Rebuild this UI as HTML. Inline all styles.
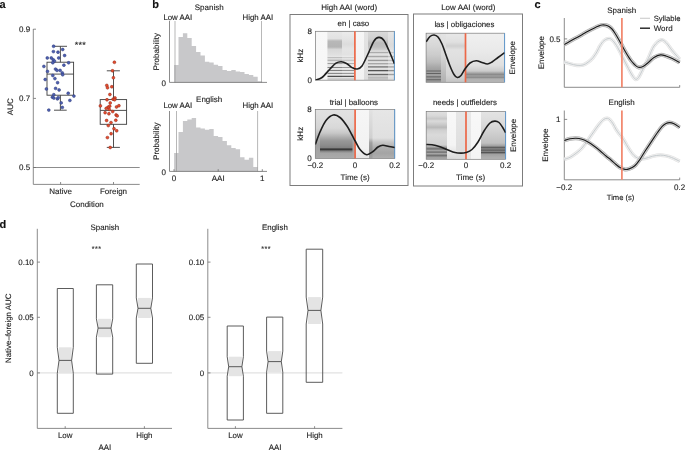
<!DOCTYPE html>
<html><head><meta charset="utf-8"><style>
html,body{margin:0;padding:0;background:#fff;}
body{width:685px;height:450px;overflow:hidden;}
svg{display:block;font-family:"Liberation Sans",sans-serif;will-change:transform;text-rendering:geometricPrecision;}
text{stroke:#222;stroke-width:0.12px;}
</style></head><body>
<svg width="685" height="450" viewBox="0 0 685 450">
<defs><filter id="blur" x="-5%" y="-5%" width="110%" height="110%"><feGaussianBlur stdDeviation="0.65"/></filter><linearGradient id="g0" x1="0" y1="0" x2="0" y2="1"><stop offset="0" stop-color="#f8f8f8"/><stop offset="1" stop-color="#f6f6f6"/></linearGradient><linearGradient id="g1" x1="0" y1="0" x2="0" y2="1"><stop offset="0" stop-color="#e8e8e8"/><stop offset="0.15" stop-color="#e2e2e2"/><stop offset="0.2" stop-color="#b8b8b8"/><stop offset="0.32" stop-color="#b4b4b4"/><stop offset="0.37" stop-color="#d8d8d8"/><stop offset="0.48" stop-color="#e0e0e0"/><stop offset="0.52" stop-color="#e6e6e6"/><stop offset="0.54" stop-color="#b4b4b4"/><stop offset="0.56" stop-color="#e6e6e6"/><stop offset="0.57" stop-color="#e6e6e6"/><stop offset="0.59" stop-color="#a8a8a8"/><stop offset="0.62" stop-color="#e6e6e6"/><stop offset="0.64" stop-color="#e6e6e6"/><stop offset="0.66" stop-color="#989898"/><stop offset="0.68" stop-color="#e6e6e6"/><stop offset="0.72" stop-color="#e6e6e6"/><stop offset="0.74" stop-color="#828282"/><stop offset="0.76" stop-color="#e6e6e6"/><stop offset="0.78" stop-color="#e6e6e6"/><stop offset="0.8" stop-color="#747474"/><stop offset="0.82" stop-color="#e6e6e6"/><stop offset="0.84" stop-color="#e6e6e6"/><stop offset="0.86" stop-color="#7a7a7a"/><stop offset="0.88" stop-color="#e6e6e6"/><stop offset="0.9" stop-color="#e6e6e6"/><stop offset="0.92" stop-color="#242424"/><stop offset="0.94" stop-color="#e6e6e6"/><stop offset="0.97" stop-color="#cccccc"/><stop offset="1" stop-color="#d4d4d4"/></linearGradient><linearGradient id="g2" x1="0" y1="0" x2="0" y2="1"><stop offset="0" stop-color="#ececec"/><stop offset="0.16" stop-color="#e4e4e4"/><stop offset="0.26" stop-color="#dcdcdc"/><stop offset="0.36" stop-color="#e4e4e4"/><stop offset="0.48" stop-color="#e2e2e2"/><stop offset="0.52" stop-color="#eaeaea"/><stop offset="0.54" stop-color="#c8c8c8"/><stop offset="0.56" stop-color="#eaeaea"/><stop offset="0.57" stop-color="#eaeaea"/><stop offset="0.59" stop-color="#bcbcbc"/><stop offset="0.62" stop-color="#eaeaea"/><stop offset="0.64" stop-color="#eaeaea"/><stop offset="0.66" stop-color="#acacac"/><stop offset="0.68" stop-color="#eaeaea"/><stop offset="0.72" stop-color="#eaeaea"/><stop offset="0.74" stop-color="#959595"/><stop offset="0.76" stop-color="#eaeaea"/><stop offset="0.78" stop-color="#eaeaea"/><stop offset="0.8" stop-color="#888888"/><stop offset="0.82" stop-color="#eaeaea"/><stop offset="0.84" stop-color="#eaeaea"/><stop offset="0.86" stop-color="#8c8c8c"/><stop offset="0.88" stop-color="#eaeaea"/><stop offset="0.9" stop-color="#eaeaea"/><stop offset="0.92" stop-color="#282828"/><stop offset="0.94" stop-color="#eaeaea"/><stop offset="0.97" stop-color="#cccccc"/><stop offset="1" stop-color="#d4d4d4"/></linearGradient><linearGradient id="g3" x1="0" y1="0" x2="0" y2="1"><stop offset="0" stop-color="#f6f6f6"/><stop offset="1" stop-color="#f2f2f2"/></linearGradient><linearGradient id="g4" x1="0" y1="0" x2="0" y2="1"><stop offset="0" stop-color="#e4e4e4"/><stop offset="1" stop-color="#dcdcdc"/></linearGradient><linearGradient id="g5" x1="0" y1="0" x2="0" y2="1"><stop offset="0" stop-color="#dadada"/><stop offset="0.16" stop-color="#d0d0d0"/><stop offset="0.24" stop-color="#bcbcbc"/><stop offset="0.32" stop-color="#c0c0c0"/><stop offset="0.38" stop-color="#d0d0d0"/><stop offset="0.41" stop-color="#e2e2e2"/><stop offset="0.43" stop-color="#a4a4a4"/><stop offset="0.46" stop-color="#e2e2e2"/><stop offset="0.49" stop-color="#e2e2e2"/><stop offset="0.52" stop-color="#9a9a9a"/><stop offset="0.54" stop-color="#e2e2e2"/><stop offset="0.57" stop-color="#e2e2e2"/><stop offset="0.6" stop-color="#929292"/><stop offset="0.62" stop-color="#e2e2e2"/><stop offset="0.64" stop-color="#e2e2e2"/><stop offset="0.66" stop-color="#a2a2a2"/><stop offset="0.69" stop-color="#e2e2e2"/><stop offset="0.7" stop-color="#e2e2e2"/><stop offset="0.73" stop-color="#626262"/><stop offset="0.75" stop-color="#e2e2e2"/><stop offset="0.78" stop-color="#e2e2e2"/><stop offset="0.8" stop-color="#4a4a4a"/><stop offset="0.83" stop-color="#e2e2e2"/><stop offset="0.86" stop-color="#e2e2e2"/><stop offset="0.88" stop-color="#585858"/><stop offset="0.91" stop-color="#e2e2e2"/><stop offset="0.94" stop-color="#b8b8b8"/><stop offset="1" stop-color="#d0d0d0"/></linearGradient><linearGradient id="g6" x1="0" y1="0" x2="0" y2="1"><stop offset="0" stop-color="#e6e6e6"/><stop offset="0.28" stop-color="#dadada"/><stop offset="0.38" stop-color="#e0e0e0"/><stop offset="0.41" stop-color="#e8e8e8"/><stop offset="0.43" stop-color="#c4c4c4"/><stop offset="0.46" stop-color="#e8e8e8"/><stop offset="0.49" stop-color="#e8e8e8"/><stop offset="0.52" stop-color="#bcbcbc"/><stop offset="0.54" stop-color="#e8e8e8"/><stop offset="0.57" stop-color="#e8e8e8"/><stop offset="0.6" stop-color="#b8b8b8"/><stop offset="0.62" stop-color="#e8e8e8"/><stop offset="0.64" stop-color="#e8e8e8"/><stop offset="0.66" stop-color="#c0c0c0"/><stop offset="0.69" stop-color="#e8e8e8"/><stop offset="0.7" stop-color="#e8e8e8"/><stop offset="0.73" stop-color="#989898"/><stop offset="0.75" stop-color="#e8e8e8"/><stop offset="0.78" stop-color="#e8e8e8"/><stop offset="0.8" stop-color="#8a8a8a"/><stop offset="0.83" stop-color="#e8e8e8"/><stop offset="0.86" stop-color="#e8e8e8"/><stop offset="0.88" stop-color="#969696"/><stop offset="0.91" stop-color="#e8e8e8"/><stop offset="1" stop-color="#d8d8d8"/></linearGradient><linearGradient id="g7" x1="0" y1="0" x2="0" y2="1"><stop offset="0" stop-color="#e2e2e2"/><stop offset="0.22" stop-color="#dedede"/><stop offset="0.38" stop-color="#d8d8d8"/><stop offset="0.48" stop-color="#c8c8c8"/><stop offset="0.56" stop-color="#b0b0b0"/><stop offset="0.64" stop-color="#989898"/><stop offset="0.73" stop-color="#8c8c8c"/><stop offset="0.78" stop-color="#828282"/><stop offset="0.81" stop-color="#2a2a2a"/><stop offset="0.85" stop-color="#828282"/><stop offset="0.89" stop-color="#a4a4a4"/><stop offset="1" stop-color="#ababab"/></linearGradient><linearGradient id="g8" x1="0" y1="0" x2="0" y2="1"><stop offset="0" stop-color="#e2e2e2"/><stop offset="0.38" stop-color="#d4d4d4"/><stop offset="0.56" stop-color="#b4b4b4"/><stop offset="0.73" stop-color="#a0a0a0"/><stop offset="1" stop-color="#a8a8a8"/></linearGradient><linearGradient id="g9" x1="0" y1="0" x2="0" y2="1"><stop offset="0" stop-color="#e2e2e2"/><stop offset="0.38" stop-color="#d8d8d8"/><stop offset="0.56" stop-color="#b8b8b8"/><stop offset="0.73" stop-color="#a0a0a0"/><stop offset="1" stop-color="#b0b0b0"/></linearGradient><linearGradient id="g10" x1="0" y1="0" x2="0" y2="1"><stop offset="0" stop-color="#f6f6f6"/><stop offset="0.79" stop-color="#f2f2f2"/><stop offset="1" stop-color="#e4e4e4"/></linearGradient><linearGradient id="g11" x1="0" y1="0" x2="0" y2="1"><stop offset="0" stop-color="#e6e6e6"/><stop offset="0.58" stop-color="#e0e0e0"/><stop offset="0.66" stop-color="#c8c8c8"/><stop offset="0.77" stop-color="#b0b0b0"/><stop offset="0.89" stop-color="#a4a4a4"/><stop offset="1" stop-color="#b0b0b0"/></linearGradient><linearGradient id="g12" x1="0" y1="0" x2="0" y2="1"><stop offset="0" stop-color="#e2e2e2"/><stop offset="0.58" stop-color="#d0d0d0"/><stop offset="0.68" stop-color="#a0a0a0"/><stop offset="0.83" stop-color="#909090"/><stop offset="1" stop-color="#a0a0a0"/></linearGradient><linearGradient id="g13" x1="0" y1="0" x2="0" y2="1"><stop offset="0" stop-color="#e2e2e2"/><stop offset="0.24" stop-color="#d8d8d8"/><stop offset="0.44" stop-color="#cccccc"/><stop offset="0.59" stop-color="#bcbcbc"/><stop offset="0.69" stop-color="#a8a8a8"/><stop offset="0.75" stop-color="#a0a0a0"/><stop offset="0.77" stop-color="#646464"/><stop offset="0.79" stop-color="#a0a0a0"/><stop offset="0.8" stop-color="#a0a0a0"/><stop offset="0.82" stop-color="#606060"/><stop offset="0.84" stop-color="#a0a0a0"/><stop offset="0.87" stop-color="#a0a0a0"/><stop offset="0.89" stop-color="#5c5c5c"/><stop offset="0.91" stop-color="#a0a0a0"/><stop offset="0.92" stop-color="#a0a0a0"/><stop offset="0.95" stop-color="#606060"/><stop offset="0.97" stop-color="#a0a0a0"/><stop offset="1" stop-color="#909090"/></linearGradient><linearGradient id="g14" x1="0" y1="0" x2="0" y2="1"><stop offset="0" stop-color="#e4e4e4"/><stop offset="0.44" stop-color="#d8d8d8"/><stop offset="0.75" stop-color="#c0c0c0"/><stop offset="1" stop-color="#b0b0b0"/></linearGradient><linearGradient id="g15" x1="0" y1="0" x2="0" y2="1"><stop offset="0" stop-color="#e8e8e8"/><stop offset="0.18" stop-color="#e0e0e0"/><stop offset="0.26" stop-color="#d0d0d0"/><stop offset="0.34" stop-color="#e2e2e2"/><stop offset="0.55" stop-color="#dedede"/><stop offset="0.85" stop-color="#d4d4d4"/><stop offset="1" stop-color="#c4c4c4"/></linearGradient><linearGradient id="g16" x1="0" y1="0" x2="0" y2="1"><stop offset="0" stop-color="#f0f0f0"/><stop offset="0.34" stop-color="#eaeaea"/><stop offset="0.65" stop-color="#e0e0e0"/><stop offset="0.77" stop-color="#cccccc"/><stop offset="0.84" stop-color="#8a8a8a"/><stop offset="0.87" stop-color="#a0a0a0"/><stop offset="0.9" stop-color="#8a8a8a"/><stop offset="0.93" stop-color="#b0b0b0"/><stop offset="1" stop-color="#b8b8b8"/></linearGradient><linearGradient id="g17" x1="0" y1="0" x2="0" y2="1"><stop offset="0" stop-color="#e0e0e0"/><stop offset="0.09" stop-color="#d8d8d8"/><stop offset="0.15" stop-color="#c8c8c8"/><stop offset="0.2" stop-color="#dadada"/><stop offset="0.28" stop-color="#c8c8c8"/><stop offset="0.33" stop-color="#b8b8b8"/><stop offset="0.39" stop-color="#d0d0d0"/><stop offset="0.49" stop-color="#dadada"/><stop offset="0.7" stop-color="#d0d0d0"/><stop offset="0.74" stop-color="#a8a8a8"/><stop offset="0.78" stop-color="#707070"/><stop offset="0.82" stop-color="#a8a8a8"/><stop offset="0.85" stop-color="#6a6a6a"/><stop offset="0.88" stop-color="#a8a8a8"/><stop offset="0.92" stop-color="#707070"/><stop offset="0.96" stop-color="#a0a0a0"/><stop offset="1" stop-color="#a8a8a8"/></linearGradient><linearGradient id="g18" x1="0" y1="0" x2="0" y2="1"><stop offset="0" stop-color="#f8f8f8"/><stop offset="0.7" stop-color="#f4f4f4"/><stop offset="1" stop-color="#d8d8d8"/></linearGradient><linearGradient id="g19" x1="0" y1="0" x2="0" y2="1"><stop offset="0" stop-color="#e6e6e6"/><stop offset="1" stop-color="#dcdcdc"/></linearGradient><linearGradient id="g20" x1="0" y1="0" x2="0" y2="1"><stop offset="0" stop-color="#e8e8e8"/><stop offset="1" stop-color="#e4e4e4"/></linearGradient><linearGradient id="g21" x1="0" y1="0" x2="0" y2="1"><stop offset="0" stop-color="#f8f8f8"/><stop offset="1" stop-color="#f4f4f4"/></linearGradient><linearGradient id="g22" x1="0" y1="0" x2="0" y2="1"><stop offset="0" stop-color="#e4e4e4"/><stop offset="0.28" stop-color="#dadada"/><stop offset="0.49" stop-color="#cccccc"/><stop offset="0.66" stop-color="#c0c0c0"/><stop offset="0.72" stop-color="#a0a0a0"/><stop offset="0.76" stop-color="#505050"/><stop offset="0.78" stop-color="#909090"/><stop offset="0.81" stop-color="#555555"/><stop offset="0.83" stop-color="#909090"/><stop offset="0.86" stop-color="#505050"/><stop offset="0.89" stop-color="#a0a0a0"/><stop offset="1" stop-color="#b4b4b4"/></linearGradient></defs>
<rect width="685" height="450" fill="#fff"/>
<text x="-0.4" y="7.8" font-size="11" text-anchor="start" font-weight="bold" fill="#111">a</text>
<line x1="33.3" y1="29" x2="33.3" y2="184.4" stroke="#6e6e6e" stroke-width="0.8"/>
<line x1="33.3" y1="29.2" x2="36" y2="29.2" stroke="#6e6e6e" stroke-width="0.8"/>
<text x="30.2" y="31.8" font-size="8.0" text-anchor="end" font-weight="normal" fill="#222222">0.9</text>
<line x1="33.3" y1="98.4" x2="36" y2="98.4" stroke="#6e6e6e" stroke-width="0.8"/>
<text x="30.2" y="100.8" font-size="8.0" text-anchor="end" font-weight="normal" fill="#222222">0.7</text>
<line x1="33.3" y1="167.5" x2="36" y2="167.5" stroke="#6e6e6e" stroke-width="0.8"/>
<text x="30.2" y="170.1" font-size="8.0" text-anchor="end" font-weight="normal" fill="#222222">0.5</text>
<line x1="33.3" y1="167.5" x2="139.7" y2="167.5" stroke="#6e6e6e" stroke-width="0.8"/>
<line x1="33.3" y1="184.4" x2="139.7" y2="184.4" stroke="#6e6e6e" stroke-width="0.8"/>
<line x1="60.6" y1="184.4" x2="60.6" y2="182" stroke="#6e6e6e" stroke-width="0.8"/>
<line x1="113.5" y1="184.4" x2="113.5" y2="182" stroke="#6e6e6e" stroke-width="0.8"/>
<text x="60.6" y="193.8" font-size="8.0" text-anchor="middle" font-weight="normal" fill="#222222">Native</text>
<text x="113.5" y="193.8" font-size="8.0" text-anchor="middle" font-weight="normal" fill="#222222">Foreign</text>
<text x="86.9" y="207" font-size="8.0" text-anchor="middle" font-weight="normal" fill="#222222">Condition</text>
<text x="13.3" y="106.7" font-size="8.0" text-anchor="middle" font-weight="normal" fill="#222222" transform="rotate(-90 13.3 106.7)">AUC</text>
<rect x="47" y="62.2" width="26.6" height="33" fill="none" stroke="#3c3c3c" stroke-width="0.9"/>
<line x1="47" y1="74.1" x2="73.6" y2="74.1" stroke="#3c3c3c" stroke-width="0.9"/>
<line x1="60.4" y1="62.2" x2="60.4" y2="46.3" stroke="#3c3c3c" stroke-width="0.9"/>
<line x1="60.4" y1="95.2" x2="60.4" y2="110.2" stroke="#3c3c3c" stroke-width="0.9"/>
<line x1="53.6" y1="46.3" x2="67" y2="46.3" stroke="#3c3c3c" stroke-width="0.9"/>
<line x1="54" y1="110.2" x2="66.7" y2="110.2" stroke="#3c3c3c" stroke-width="0.9"/>
<rect x="100.2" y="99.6" width="26.4" height="24.7" fill="none" stroke="#3c3c3c" stroke-width="0.9"/>
<line x1="100.2" y1="110.4" x2="126.6" y2="110.4" stroke="#3c3c3c" stroke-width="0.9"/>
<line x1="113.5" y1="99.6" x2="113.5" y2="70.8" stroke="#3c3c3c" stroke-width="0.9"/>
<line x1="113.5" y1="124.3" x2="113.5" y2="147.4" stroke="#3c3c3c" stroke-width="0.9"/>
<line x1="106.8" y1="70.8" x2="119.9" y2="70.8" stroke="#3c3c3c" stroke-width="0.9"/>
<line x1="106.8" y1="147.4" x2="119.9" y2="147.4" stroke="#3c3c3c" stroke-width="0.9"/>
<circle cx="53.6" cy="46.3" r="1.45" fill="#4d5fb0" stroke="#2f3a78" stroke-width="0.5"/>
<circle cx="62.7" cy="49.5" r="1.45" fill="#4d5fb0" stroke="#2f3a78" stroke-width="0.5"/>
<circle cx="53.4" cy="51.6" r="1.45" fill="#4d5fb0" stroke="#2f3a78" stroke-width="0.5"/>
<circle cx="58" cy="52.2" r="1.45" fill="#4d5fb0" stroke="#2f3a78" stroke-width="0.5"/>
<circle cx="64.6" cy="55.5" r="1.45" fill="#4d5fb0" stroke="#2f3a78" stroke-width="0.5"/>
<circle cx="47.3" cy="58" r="1.45" fill="#4d5fb0" stroke="#2f3a78" stroke-width="0.5"/>
<circle cx="51.3" cy="58" r="1.45" fill="#4d5fb0" stroke="#2f3a78" stroke-width="0.5"/>
<circle cx="58.7" cy="58" r="1.45" fill="#4d5fb0" stroke="#2f3a78" stroke-width="0.5"/>
<circle cx="53.2" cy="59.8" r="1.45" fill="#4d5fb0" stroke="#2f3a78" stroke-width="0.5"/>
<circle cx="54.5" cy="61.1" r="1.45" fill="#4d5fb0" stroke="#2f3a78" stroke-width="0.5"/>
<circle cx="52.8" cy="62.8" r="1.45" fill="#4d5fb0" stroke="#2f3a78" stroke-width="0.5"/>
<circle cx="68.6" cy="62.8" r="1.45" fill="#4d5fb0" stroke="#2f3a78" stroke-width="0.5"/>
<circle cx="43.9" cy="66.4" r="1.45" fill="#4d5fb0" stroke="#2f3a78" stroke-width="0.5"/>
<circle cx="63.9" cy="65.2" r="1.45" fill="#4d5fb0" stroke="#2f3a78" stroke-width="0.5"/>
<circle cx="55.5" cy="69.1" r="1.45" fill="#4d5fb0" stroke="#2f3a78" stroke-width="0.5"/>
<circle cx="57" cy="70.4" r="1.45" fill="#4d5fb0" stroke="#2f3a78" stroke-width="0.5"/>
<circle cx="60.1" cy="70.4" r="1.45" fill="#4d5fb0" stroke="#2f3a78" stroke-width="0.5"/>
<circle cx="47.5" cy="71.4" r="1.45" fill="#4d5fb0" stroke="#2f3a78" stroke-width="0.5"/>
<circle cx="62.3" cy="72.9" r="1.45" fill="#4d5fb0" stroke="#2f3a78" stroke-width="0.5"/>
<circle cx="62.7" cy="74.8" r="1.45" fill="#4d5fb0" stroke="#2f3a78" stroke-width="0.5"/>
<circle cx="52.8" cy="75.5" r="1.45" fill="#4d5fb0" stroke="#2f3a78" stroke-width="0.5"/>
<circle cx="45.2" cy="79.5" r="1.45" fill="#4d5fb0" stroke="#2f3a78" stroke-width="0.5"/>
<circle cx="54.9" cy="78.6" r="1.45" fill="#4d5fb0" stroke="#2f3a78" stroke-width="0.5"/>
<circle cx="57.6" cy="82.7" r="1.45" fill="#4d5fb0" stroke="#2f3a78" stroke-width="0.5"/>
<circle cx="46.4" cy="89" r="1.45" fill="#4d5fb0" stroke="#2f3a78" stroke-width="0.5"/>
<circle cx="55.6" cy="88.4" r="1.45" fill="#4d5fb0" stroke="#2f3a78" stroke-width="0.5"/>
<circle cx="59.1" cy="90" r="1.45" fill="#4d5fb0" stroke="#2f3a78" stroke-width="0.5"/>
<circle cx="68.2" cy="93.3" r="1.45" fill="#4d5fb0" stroke="#2f3a78" stroke-width="0.5"/>
<circle cx="53.8" cy="94.7" r="1.45" fill="#4d5fb0" stroke="#2f3a78" stroke-width="0.5"/>
<circle cx="52.4" cy="97.2" r="1.45" fill="#4d5fb0" stroke="#2f3a78" stroke-width="0.5"/>
<circle cx="53.9" cy="98.1" r="1.45" fill="#4d5fb0" stroke="#2f3a78" stroke-width="0.5"/>
<circle cx="57.4" cy="98.9" r="1.45" fill="#4d5fb0" stroke="#2f3a78" stroke-width="0.5"/>
<circle cx="58.3" cy="97.6" r="1.45" fill="#4d5fb0" stroke="#2f3a78" stroke-width="0.5"/>
<circle cx="73.9" cy="96.1" r="1.45" fill="#4d5fb0" stroke="#2f3a78" stroke-width="0.5"/>
<circle cx="69.9" cy="100.4" r="1.45" fill="#4d5fb0" stroke="#2f3a78" stroke-width="0.5"/>
<circle cx="61.2" cy="102.9" r="1.45" fill="#4d5fb0" stroke="#2f3a78" stroke-width="0.5"/>
<circle cx="62.3" cy="107.4" r="1.45" fill="#4d5fb0" stroke="#2f3a78" stroke-width="0.5"/>
<circle cx="48.8" cy="110.1" r="1.45" fill="#4d5fb0" stroke="#2f3a78" stroke-width="0.5"/>
<circle cx="114.4" cy="62.3" r="1.45" fill="#e64b2e" stroke="#8c2a1a" stroke-width="0.5"/>
<circle cx="112.5" cy="70.8" r="1.45" fill="#e64b2e" stroke="#8c2a1a" stroke-width="0.5"/>
<circle cx="113.4" cy="77.8" r="1.45" fill="#e64b2e" stroke="#8c2a1a" stroke-width="0.5"/>
<circle cx="106.8" cy="85.4" r="1.45" fill="#e64b2e" stroke="#8c2a1a" stroke-width="0.5"/>
<circle cx="107.5" cy="87.8" r="1.45" fill="#e64b2e" stroke="#8c2a1a" stroke-width="0.5"/>
<circle cx="111.8" cy="86.8" r="1.45" fill="#e64b2e" stroke="#8c2a1a" stroke-width="0.5"/>
<circle cx="109.9" cy="94.5" r="1.45" fill="#e64b2e" stroke="#8c2a1a" stroke-width="0.5"/>
<circle cx="107" cy="99.8" r="1.45" fill="#e64b2e" stroke="#8c2a1a" stroke-width="0.5"/>
<circle cx="113.1" cy="99.2" r="1.45" fill="#e64b2e" stroke="#8c2a1a" stroke-width="0.5"/>
<circle cx="115" cy="98" r="1.45" fill="#e64b2e" stroke="#8c2a1a" stroke-width="0.5"/>
<circle cx="114.6" cy="99.8" r="1.45" fill="#e64b2e" stroke="#8c2a1a" stroke-width="0.5"/>
<circle cx="110.2" cy="103" r="1.45" fill="#e64b2e" stroke="#8c2a1a" stroke-width="0.5"/>
<circle cx="100.4" cy="105.9" r="1.45" fill="#e64b2e" stroke="#8c2a1a" stroke-width="0.5"/>
<circle cx="109.7" cy="106.2" r="1.45" fill="#e64b2e" stroke="#8c2a1a" stroke-width="0.5"/>
<circle cx="108" cy="107.3" r="1.45" fill="#e64b2e" stroke="#8c2a1a" stroke-width="0.5"/>
<circle cx="106.2" cy="108.4" r="1.45" fill="#e64b2e" stroke="#8c2a1a" stroke-width="0.5"/>
<circle cx="109.3" cy="109.5" r="1.45" fill="#e64b2e" stroke="#8c2a1a" stroke-width="0.5"/>
<circle cx="116.5" cy="107" r="1.45" fill="#e64b2e" stroke="#8c2a1a" stroke-width="0.5"/>
<circle cx="118.9" cy="105.7" r="1.45" fill="#e64b2e" stroke="#8c2a1a" stroke-width="0.5"/>
<circle cx="105.1" cy="112.7" r="1.45" fill="#e64b2e" stroke="#8c2a1a" stroke-width="0.5"/>
<circle cx="108.9" cy="113.8" r="1.45" fill="#e64b2e" stroke="#8c2a1a" stroke-width="0.5"/>
<circle cx="112.7" cy="111.6" r="1.45" fill="#e64b2e" stroke="#8c2a1a" stroke-width="0.5"/>
<circle cx="116.1" cy="115" r="1.45" fill="#e64b2e" stroke="#8c2a1a" stroke-width="0.5"/>
<circle cx="117.2" cy="115.9" r="1.45" fill="#e64b2e" stroke="#8c2a1a" stroke-width="0.5"/>
<circle cx="106.6" cy="120.5" r="1.45" fill="#e64b2e" stroke="#8c2a1a" stroke-width="0.5"/>
<circle cx="115.8" cy="120.3" r="1.45" fill="#e64b2e" stroke="#8c2a1a" stroke-width="0.5"/>
<circle cx="111" cy="122.6" r="1.45" fill="#e64b2e" stroke="#8c2a1a" stroke-width="0.5"/>
<circle cx="108.3" cy="125.6" r="1.45" fill="#e64b2e" stroke="#8c2a1a" stroke-width="0.5"/>
<circle cx="114" cy="128.7" r="1.45" fill="#e64b2e" stroke="#8c2a1a" stroke-width="0.5"/>
<circle cx="116.7" cy="130.8" r="1.45" fill="#e64b2e" stroke="#8c2a1a" stroke-width="0.5"/>
<circle cx="111.1" cy="133.7" r="1.45" fill="#e64b2e" stroke="#8c2a1a" stroke-width="0.5"/>
<circle cx="107.4" cy="137.6" r="1.45" fill="#e64b2e" stroke="#8c2a1a" stroke-width="0.5"/>
<circle cx="110.2" cy="147.5" r="1.45" fill="#e64b2e" stroke="#8c2a1a" stroke-width="0.5"/>
<text x="76.5" y="48.45" font-size="9" text-anchor="middle" font-weight="normal" fill="#222">*</text>
<text x="80.3" y="48.45" font-size="9" text-anchor="middle" font-weight="normal" fill="#222">*</text>
<text x="84.1" y="48.45" font-size="9" text-anchor="middle" font-weight="normal" fill="#222">*</text>
<text x="152.2" y="7.8" font-size="11" text-anchor="start" font-weight="bold" fill="#111">b</text>
<path d="M174.1,82.4 L174.1,65.1 L178.5,65.1 L178.5,37 L182.9,37 L182.9,33.3 L187.3,33.3 L187.3,38.1 L191.7,38.1 L191.7,46 L196.1,46 L196.1,52.1 L200.5,52.1 L200.5,55.4 L204.9,55.4 L204.9,61.7 L209.3,61.7 L209.3,62.6 L213.7,62.6 L213.7,64.8 L218.1,64.8 L218.1,66.1 L222.5,66.1 L222.5,70.1 L226.9,70.1 L226.9,71 L231.3,71 L231.3,70.1 L235.7,70.1 L235.7,71.4 L240.1,71.4 L240.1,71.9 L244.5,71.9 L244.5,74.1 L248.9,74.1 L248.9,75 L253.3,75 L253.3,76.7 L257.7,76.7 L257.7,81.3 L262.1,81.3 L262.1,82.4 Z" fill="#c8c8ca"/>
<line x1="175" y1="21" x2="175" y2="82.4" stroke="#9a9a9a" stroke-width="0.7"/>
<line x1="261.5" y1="21" x2="261.5" y2="82.4" stroke="#9a9a9a" stroke-width="0.7"/>
<line x1="169.5" y1="21" x2="169.5" y2="82.4" stroke="#6e6e6e" stroke-width="0.8"/>
<line x1="169.5" y1="82.4" x2="267" y2="82.4" stroke="#6e6e6e" stroke-width="0.8"/>
<text x="165.9" y="85.7" font-size="8.0" text-anchor="end" font-weight="normal" fill="#222222">0</text>
<text x="209.2" y="9.7" font-size="8.0" text-anchor="middle" font-weight="normal" fill="#222222">Spanish</text>
<text x="163.4" y="19.6" font-size="7.85" text-anchor="start" font-weight="normal" fill="#222222">Low AAI</text>
<text x="273.1" y="19.6" font-size="7.85" text-anchor="end" font-weight="normal" fill="#222222">High AAI</text>
<text x="159.2" y="51.7" font-size="8.0" text-anchor="middle" font-weight="normal" fill="#222222" transform="rotate(-90 159.2 51.7)">Probability</text>
<path d="M174.1,171.4 L174.1,152.9 L178.5,152.9 L178.5,131.9 L182.9,131.9 L182.9,121 L187.3,121 L187.3,119.4 L191.7,119.4 L191.7,117.9 L196.1,117.9 L196.1,127.4 L200.5,127.4 L200.5,128.5 L204.9,128.5 L204.9,129.8 L209.3,129.8 L209.3,129.1 L213.7,129.1 L213.7,136.1 L218.1,136.1 L218.1,137 L222.5,137 L222.5,141 L226.9,141 L226.9,145.3 L231.3,145.3 L231.3,147.9 L235.7,147.9 L235.7,149.3 L240.1,149.3 L240.1,157.3 L244.5,157.3 L244.5,159.7 L248.9,159.7 L248.9,157.7 L253.3,157.7 L253.3,167 L257.7,167 L257.7,170.9 L262.1,170.9 L262.1,171.4 Z" fill="#c8c8ca"/>
<line x1="176.5" y1="111" x2="176.5" y2="171.4" stroke="#9a9a9a" stroke-width="0.7"/>
<line x1="257.6" y1="111" x2="257.6" y2="171.4" stroke="#9a9a9a" stroke-width="0.7"/>
<line x1="169.5" y1="111" x2="169.5" y2="171.4" stroke="#6e6e6e" stroke-width="0.8"/>
<line x1="169.5" y1="171.4" x2="267" y2="171.4" stroke="#6e6e6e" stroke-width="0.8"/>
<text x="165.9" y="174.7" font-size="8.0" text-anchor="end" font-weight="normal" fill="#222222">0</text>
<text x="209.2" y="101.9" font-size="8.0" text-anchor="middle" font-weight="normal" fill="#222222">English</text>
<text x="163.4" y="107.9" font-size="7.85" text-anchor="start" font-weight="normal" fill="#222222">Low AAI</text>
<text x="273.1" y="107.9" font-size="7.85" text-anchor="end" font-weight="normal" fill="#222222">High AAI</text>
<text x="159.2" y="141.2" font-size="8.0" text-anchor="middle" font-weight="normal" fill="#222222" transform="rotate(-90 159.2 141.2)">Probability</text>
<line x1="174" y1="171.4" x2="174" y2="169.2" stroke="#6e6e6e" stroke-width="0.8"/>
<line x1="218.2" y1="171.4" x2="218.2" y2="169.2" stroke="#6e6e6e" stroke-width="0.8"/>
<line x1="262.3" y1="171.4" x2="262.3" y2="169.2" stroke="#6e6e6e" stroke-width="0.8"/>
<text x="174" y="180.7" font-size="8.0" text-anchor="middle" font-weight="normal" fill="#222222">0</text>
<text x="218.2" y="180.7" font-size="8.0" text-anchor="middle" font-weight="normal" fill="#222222">AAI</text>
<text x="262.3" y="180.7" font-size="8.0" text-anchor="middle" font-weight="normal" fill="#222222">1</text>
<rect x="290" y="14.5" width="118" height="171" fill="none" stroke="#7c7c7c" stroke-width="1"/>
<rect x="413.5" y="14" width="109" height="172" fill="none" stroke="#7c7c7c" stroke-width="1"/>
<text x="349.2" y="9.7" font-size="8.0" text-anchor="middle" font-weight="normal" fill="#222222">High AAI (word)</text>
<text x="468.3" y="9.7" font-size="8.0" text-anchor="middle" font-weight="normal" fill="#222222">Low AAI (word)</text>
<clipPath id="c31531"><rect x="315.4" y="31.3" width="79" height="48.9"/></clipPath>
<g clip-path="url(#c31531)"><rect x="315.4" y="31.3" width="79" height="48.9" fill="#ececec"/>
<g filter="url(#blur)"><rect x="314" y="31.3" width="13.5" height="48.9" fill="url(#g0)"/><rect x="327.5" y="31.3" width="14.5" height="48.9" fill="url(#g1)"/><rect x="342" y="31.3" width="12.5" height="48.9" fill="url(#g2)"/><rect x="354.5" y="31.3" width="9.5" height="48.9" fill="url(#g3)"/><rect x="364" y="31.3" width="4" height="48.9" fill="url(#g4)"/><rect x="368" y="31.3" width="20" height="48.9" fill="url(#g5)"/><rect x="388" y="31.3" width="7" height="48.9" fill="url(#g6)"/></g></g>
<rect x="315.4" y="31.3" width="79" height="48.9" fill="none" stroke="#7a7a7a" stroke-width="0.7"/>
<line x1="394.4" y1="31.3" x2="394.4" y2="80.2" stroke="#5b9bd5" stroke-width="0.9"/>
<line x1="354.9" y1="31.3" x2="354.9" y2="80.2" stroke="#ec6848" stroke-width="1.7"/>
<path d="M315.4,80.2 C316.5,79.75 319.57,79.37 322,77.5 C324.43,75.63 327.67,71.38 330,69 C332.33,66.62 334.12,64.42 336,63.2 C337.88,61.98 339.47,61.6 341.3,61.7 C343.13,61.8 345.22,62.82 347,63.8 C348.78,64.78 350.28,66.73 352,67.6 C353.72,68.47 355.63,69.27 357.3,69 C358.97,68.73 360.22,68.5 362,66 C363.78,63.5 366,58.17 368,54 C370,49.83 372.18,43.77 374,41 C375.82,38.23 377.23,37.48 378.9,37.4 C380.57,37.32 382.15,37.9 384,40.5 C385.85,43.1 388.27,49.13 390,53 C391.73,56.87 393.67,61.92 394.4,63.7" fill="none" stroke="#1e1e1e" stroke-width="1.6" clip-path="url(#c31531)"/>
<text x="353.4" y="26.1" font-size="7.85" text-anchor="middle" font-weight="normal" fill="#222222">en | caso</text>
<text x="311.9" y="34.1" font-size="8.0" text-anchor="end" font-weight="normal" fill="#222222">8</text>
<text x="311.9" y="83" font-size="8.0" text-anchor="end" font-weight="normal" fill="#222222">0</text>
<text x="303" y="55.55" font-size="8.0" text-anchor="middle" font-weight="normal" fill="#222222" transform="rotate(-90 303 55.55)">kHz</text>
<clipPath id="c315109"><rect x="315.3" y="109.4" width="79.4" height="49.1"/></clipPath>
<g clip-path="url(#c315109)"><rect x="315.3" y="109.4" width="79.4" height="49.1" fill="#ececec"/>
<g filter="url(#blur)"><rect x="314" y="109.4" width="41" height="49.1" fill="url(#g7)"/><rect x="314" y="109.4" width="6" height="49.1" fill="url(#g8)"/><rect x="352.5" y="109.4" width="2.5" height="49.1" fill="url(#g9)"/><rect x="355" y="109.4" width="14" height="49.1" fill="url(#g10)"/><rect x="369" y="109.4" width="27" height="49.1" fill="url(#g11)"/><rect x="369" y="109.4" width="3.5" height="49.1" fill="url(#g12)"/></g></g>
<rect x="315.3" y="109.4" width="79.4" height="49.1" fill="none" stroke="#7a7a7a" stroke-width="0.7"/>
<line x1="394.7" y1="109.4" x2="394.7" y2="158.5" stroke="#5b9bd5" stroke-width="0.9"/>
<line x1="355.1" y1="109.4" x2="355.1" y2="158.5" stroke="#ec6848" stroke-width="1.7"/>
<path d="M315.3,144.5 C316.08,142.42 318.22,136 320,132 C321.78,128 323.8,123.33 326,120.5 C328.2,117.67 330.87,115.5 333.2,115 C335.53,114.5 337.7,115.67 340,117.5 C342.3,119.33 345,123.08 347,126 C349,128.92 350.63,132.5 352,135 C353.37,137.5 353.87,138.58 355.2,141 C356.53,143.42 358.08,147.22 360,149.5 C361.92,151.78 364.53,154.37 366.7,154.7 C368.87,155.03 371.12,152.78 373,151.5 C374.88,150.22 376.37,148.03 378,147 C379.63,145.97 380.97,145.38 382.8,145.3 C384.63,145.22 386.98,146.13 389,146.5 C391.02,146.87 393.92,147.33 394.9,147.5" fill="none" stroke="#1e1e1e" stroke-width="1.6" clip-path="url(#c315109)"/>
<text x="353.8" y="105.1" font-size="7.85" text-anchor="middle" font-weight="normal" fill="#222222">trial | balloons</text>
<text x="311.8" y="112.2" font-size="8.0" text-anchor="end" font-weight="normal" fill="#222222">8</text>
<text x="311.8" y="161.3" font-size="8.0" text-anchor="end" font-weight="normal" fill="#222222">0</text>
<text x="302.9" y="133.75" font-size="8.0" text-anchor="middle" font-weight="normal" fill="#222222" transform="rotate(-90 302.9 133.75)">kHz</text>
<text x="315.3" y="167.5" font-size="8.0" text-anchor="middle" font-weight="normal" fill="#222222">−0.2</text>
<text x="355.1" y="167.5" font-size="8.0" text-anchor="middle" font-weight="normal" fill="#222222">0</text>
<text x="394.7" y="167.5" font-size="8.0" text-anchor="middle" font-weight="normal" fill="#222222">0.2</text>
<text x="355.1" y="179.5" font-size="8.0" text-anchor="middle" font-weight="normal" fill="#222222">Time (s)</text>
<clipPath id="c42633"><rect x="426.1" y="33.2" width="78.5" height="49.1"/></clipPath>
<g clip-path="url(#c42633)"><rect x="426.1" y="33.2" width="78.5" height="49.1" fill="#ececec"/>
<g filter="url(#blur)"><rect x="425" y="33.2" width="16" height="49.1" fill="url(#g13)"/><rect x="441" y="33.2" width="5" height="49.1" fill="url(#g14)"/><rect x="446" y="33.2" width="20" height="49.1" fill="url(#g15)"/><rect x="466" y="33.2" width="40" height="49.1" fill="url(#g16)"/></g></g>
<rect x="426.1" y="33.2" width="78.5" height="49.1" fill="none" stroke="#7a7a7a" stroke-width="0.7"/>
<line x1="504.6" y1="33.2" x2="504.6" y2="82.3" stroke="#5b9bd5" stroke-width="0.9"/>
<line x1="465.5" y1="33.2" x2="465.5" y2="82.3" stroke="#ec6848" stroke-width="1.7"/>
<path d="M426.1,41.9 C426.75,41 428.67,37.65 430,36.5 C431.33,35.35 432.77,34.92 434.1,35 C435.43,35.08 436.68,35.5 438,37 C439.32,38.5 440.67,41 442,44 C443.33,47 444.67,51.33 446,55 C447.33,58.67 448.67,62.75 450,66 C451.33,69.25 452.78,72.58 454,74.5 C455.22,76.42 456.13,77.33 457.3,77.5 C458.47,77.67 459.72,76.92 461,75.5 C462.28,74.08 463.5,71.08 465,69 C466.5,66.92 468.13,64.38 470,63 C471.87,61.62 474.2,60.78 476.2,60.7 C478.2,60.62 480.13,61.95 482,62.5 C483.87,63.05 485.73,64.08 487.4,64 C489.07,63.92 490.23,63.08 492,62 C493.77,60.92 495.9,59.07 498,57.5 C500.1,55.93 503.5,53.42 504.6,52.6" fill="none" stroke="#1e1e1e" stroke-width="1.6" clip-path="url(#c42633)"/>
<text x="464.4" y="26.5" font-size="7.85" text-anchor="middle" font-weight="normal" fill="#222222">las | obligaciones</text>
<text x="515.1" y="57.75" font-size="8.0" text-anchor="middle" font-weight="normal" fill="#222222" transform="rotate(-90 515.1 57.75)">Envelope</text>
<clipPath id="c426111"><rect x="426.2" y="111.5" width="79.4" height="47.8"/></clipPath>
<g clip-path="url(#c426111)"><rect x="426.2" y="111.5" width="79.4" height="47.8" fill="#ececec"/>
<g filter="url(#blur)"><rect x="425" y="111.5" width="22" height="47.8" fill="url(#g17)"/><rect x="447" y="111.5" width="9" height="47.8" fill="url(#g18)"/><rect x="456" y="111.5" width="10" height="47.8" fill="url(#g19)"/><rect x="466" y="111.5" width="5" height="47.8" fill="url(#g20)"/><rect x="471" y="111.5" width="10" height="47.8" fill="url(#g21)"/><rect x="481" y="111.5" width="26" height="47.8" fill="url(#g22)"/></g></g>
<rect x="426.2" y="111.5" width="79.4" height="47.8" fill="none" stroke="#7a7a7a" stroke-width="0.7"/>
<line x1="505.6" y1="111.5" x2="505.6" y2="159.3" stroke="#5b9bd5" stroke-width="0.9"/>
<line x1="466" y1="111.5" x2="466" y2="159.3" stroke="#ec6848" stroke-width="1.7"/>
<path d="M426.2,144.5 C427.17,144.55 429.7,144.42 432,144.8 C434.3,145.18 437.33,145.93 440,146.8 C442.67,147.67 445.5,149.05 448,150 C450.5,150.95 452.83,151.98 455,152.5 C457.17,153.02 459.17,153.1 461,153.1 C462.83,153.1 464.17,153.1 466,152.5 C467.83,151.9 470,151.25 472,149.5 C474,147.75 476,145.08 478,142 C480,138.92 482,134.17 484,131 C486,127.83 488.2,124.65 490,123 C491.8,121.35 493.3,121.18 494.8,121.1 C496.3,121.02 497.63,121.35 499,122.5 C500.37,123.65 501.9,126.28 503,128 C504.1,129.72 505.17,132 505.6,132.8" fill="none" stroke="#1e1e1e" stroke-width="1.6" clip-path="url(#c426111)"/>
<text x="464.9" y="105.2" font-size="7.85" text-anchor="middle" font-weight="normal" fill="#222222">needs | outfielders</text>
<text x="516.1" y="135.4" font-size="8.0" text-anchor="middle" font-weight="normal" fill="#222222" transform="rotate(-90 516.1 135.4)">Envelope</text>
<text x="426.2" y="168.3" font-size="8.0" text-anchor="middle" font-weight="normal" fill="#222222">−0.2</text>
<text x="466" y="168.3" font-size="8.0" text-anchor="middle" font-weight="normal" fill="#222222">0</text>
<text x="505.6" y="168.3" font-size="8.0" text-anchor="middle" font-weight="normal" fill="#222222">0.2</text>
<text x="470.6" y="180.3" font-size="8.0" text-anchor="middle" font-weight="normal" fill="#222222">Time (s)</text>
<text x="534.6" y="7.8" font-size="11" text-anchor="start" font-weight="bold" fill="#111">c</text>
<line x1="564.3" y1="18" x2="564.3" y2="87.3" stroke="#6e6e6e" stroke-width="0.8"/>
<line x1="564.3" y1="87.3" x2="679.7" y2="87.3" stroke="#6e6e6e" stroke-width="0.8"/>
<line x1="679.7" y1="87.3" x2="679.7" y2="85.1" stroke="#6e6e6e" stroke-width="0.8"/>
<line x1="564.3" y1="38.9" x2="567.2" y2="38.9" stroke="#6e6e6e" stroke-width="0.8"/>
<text x="560.5" y="41.7" font-size="8.0" text-anchor="end" font-weight="normal" fill="#222222">0.5</text>
<text x="621.7" y="13.3" font-size="8.0" text-anchor="middle" font-weight="normal" fill="#222222">Spanish</text>
<path d="M564.3,61.8 C565.25,62.12 567.88,63.12 570,63.7 C572.12,64.28 574.83,65.08 577,65.3 C579.17,65.52 581.17,65.5 583,65 C584.83,64.5 586.33,63.52 588,62.3 C589.67,61.08 591.5,59.47 593,57.7 C594.5,55.93 595.83,53.68 597,51.7 C598.17,49.72 598.83,47.65 600,45.8 C601.17,43.95 602.45,41.82 604,40.6 C605.55,39.38 607.8,38.47 609.3,38.5 C610.8,38.53 611.8,39.63 613,40.8 C614.2,41.97 615.5,43.97 616.5,45.5 C617.5,47.03 618.08,48.28 619,50 C619.92,51.72 621,53.8 622,55.8 C623,57.8 623.95,59.92 625,62 C626.05,64.08 627.13,66.13 628.3,68.3 C629.47,70.47 630.8,73.18 632,75 C633.2,76.82 634.42,78.78 635.5,79.2 C636.58,79.62 637.42,78.87 638.5,77.5 C639.58,76.13 640.37,74.2 642,71 C643.63,67.8 646.3,62.47 648.3,58.3 C650.3,54.13 651.88,49.05 654,46 C656.12,42.95 659,40.58 661,40 C663,39.42 664.22,40.83 666,42.5 C667.78,44.17 670.03,47.92 671.7,50 C673.37,52.08 674.67,53.47 676,55 C677.33,56.53 679.08,58.5 679.7,59.2" fill="none" stroke="#e2e2e2" stroke-width="3.7"/>
<path d="M564.3,61.8 C565.25,62.12 567.88,63.12 570,63.7 C572.12,64.28 574.83,65.08 577,65.3 C579.17,65.52 581.17,65.5 583,65 C584.83,64.5 586.33,63.52 588,62.3 C589.67,61.08 591.5,59.47 593,57.7 C594.5,55.93 595.83,53.68 597,51.7 C598.17,49.72 598.83,47.65 600,45.8 C601.17,43.95 602.45,41.82 604,40.6 C605.55,39.38 607.8,38.47 609.3,38.5 C610.8,38.53 611.8,39.63 613,40.8 C614.2,41.97 615.5,43.97 616.5,45.5 C617.5,47.03 618.08,48.28 619,50 C619.92,51.72 621,53.8 622,55.8 C623,57.8 623.95,59.92 625,62 C626.05,64.08 627.13,66.13 628.3,68.3 C629.47,70.47 630.8,73.18 632,75 C633.2,76.82 634.42,78.78 635.5,79.2 C636.58,79.62 637.42,78.87 638.5,77.5 C639.58,76.13 640.37,74.2 642,71 C643.63,67.8 646.3,62.47 648.3,58.3 C650.3,54.13 651.88,49.05 654,46 C656.12,42.95 659,40.58 661,40 C663,39.42 664.22,40.83 666,42.5 C667.78,44.17 670.03,47.92 671.7,50 C673.37,52.08 674.67,53.47 676,55 C677.33,56.53 679.08,58.5 679.7,59.2" fill="none" stroke="#efefef" stroke-width="2.7"/>
<path d="M564.3,61.8 C565.25,62.12 567.88,63.12 570,63.7 C572.12,64.28 574.83,65.08 577,65.3 C579.17,65.52 581.17,65.5 583,65 C584.83,64.5 586.33,63.52 588,62.3 C589.67,61.08 591.5,59.47 593,57.7 C594.5,55.93 595.83,53.68 597,51.7 C598.17,49.72 598.83,47.65 600,45.8 C601.17,43.95 602.45,41.82 604,40.6 C605.55,39.38 607.8,38.47 609.3,38.5 C610.8,38.53 611.8,39.63 613,40.8 C614.2,41.97 615.5,43.97 616.5,45.5 C617.5,47.03 618.08,48.28 619,50 C619.92,51.72 621,53.8 622,55.8 C623,57.8 623.95,59.92 625,62 C626.05,64.08 627.13,66.13 628.3,68.3 C629.47,70.47 630.8,73.18 632,75 C633.2,76.82 634.42,78.78 635.5,79.2 C636.58,79.62 637.42,78.87 638.5,77.5 C639.58,76.13 640.37,74.2 642,71 C643.63,67.8 646.3,62.47 648.3,58.3 C650.3,54.13 651.88,49.05 654,46 C656.12,42.95 659,40.58 661,40 C663,39.42 664.22,40.83 666,42.5 C667.78,44.17 670.03,47.92 671.7,50 C673.37,52.08 674.67,53.47 676,55 C677.33,56.53 679.08,58.5 679.7,59.2" fill="none" stroke="#c2c8cb" stroke-width="0.95"/>
<path d="M564.3,44.5 C565.25,43.97 568.05,42.38 570,41.3 C571.95,40.22 574,39.1 576,38 C578,36.9 580,35.82 582,34.7 C584,33.58 586,32.38 588,31.3 C590,30.22 592.33,29.03 594,28.2 C595.67,27.37 596.67,26.83 598,26.3 C599.33,25.77 600.67,25.18 602,25 C603.33,24.82 604.83,24.95 606,25.2 C607.17,25.45 608,25.87 609,26.5 C610,27.13 611,27.88 612,29 C613,30.12 614,31.67 615,33.2 C616,34.73 616.92,36.32 618,38.2 C619.08,40.08 620.33,42.37 621.5,44.5 C622.67,46.63 623.92,49.08 625,51 C626.08,52.92 627,54.42 628,56 C629,57.58 629.92,59.08 631,60.5 C632.08,61.92 633.28,63.37 634.5,64.5 C635.72,65.63 636.88,66.97 638.3,67.3 C639.72,67.63 641.33,67.3 643,66.5 C644.67,65.7 646.47,64 648.3,62.5 C650.13,61 651.97,58.77 654,57.5 C656.03,56.23 658.5,55.15 660.5,54.9 C662.5,54.65 664.13,55.43 666,56 C667.87,56.57 669.42,57.22 671.7,58.3 C673.98,59.38 678.37,61.8 679.7,62.5" fill="none" stroke="#a8a8a8" stroke-width="4.0"/>
<path d="M564.3,44.5 C565.25,43.97 568.05,42.38 570,41.3 C571.95,40.22 574,39.1 576,38 C578,36.9 580,35.82 582,34.7 C584,33.58 586,32.38 588,31.3 C590,30.22 592.33,29.03 594,28.2 C595.67,27.37 596.67,26.83 598,26.3 C599.33,25.77 600.67,25.18 602,25 C603.33,24.82 604.83,24.95 606,25.2 C607.17,25.45 608,25.87 609,26.5 C610,27.13 611,27.88 612,29 C613,30.12 614,31.67 615,33.2 C616,34.73 616.92,36.32 618,38.2 C619.08,40.08 620.33,42.37 621.5,44.5 C622.67,46.63 623.92,49.08 625,51 C626.08,52.92 627,54.42 628,56 C629,57.58 629.92,59.08 631,60.5 C632.08,61.92 633.28,63.37 634.5,64.5 C635.72,65.63 636.88,66.97 638.3,67.3 C639.72,67.63 641.33,67.3 643,66.5 C644.67,65.7 646.47,64 648.3,62.5 C650.13,61 651.97,58.77 654,57.5 C656.03,56.23 658.5,55.15 660.5,54.9 C662.5,54.65 664.13,55.43 666,56 C667.87,56.57 669.42,57.22 671.7,58.3 C673.98,59.38 678.37,61.8 679.7,62.5" fill="none" stroke="#d4d4d4" stroke-width="2.9"/>
<path d="M564.3,44.5 C565.25,43.97 568.05,42.38 570,41.3 C571.95,40.22 574,39.1 576,38 C578,36.9 580,35.82 582,34.7 C584,33.58 586,32.38 588,31.3 C590,30.22 592.33,29.03 594,28.2 C595.67,27.37 596.67,26.83 598,26.3 C599.33,25.77 600.67,25.18 602,25 C603.33,24.82 604.83,24.95 606,25.2 C607.17,25.45 608,25.87 609,26.5 C610,27.13 611,27.88 612,29 C613,30.12 614,31.67 615,33.2 C616,34.73 616.92,36.32 618,38.2 C619.08,40.08 620.33,42.37 621.5,44.5 C622.67,46.63 623.92,49.08 625,51 C626.08,52.92 627,54.42 628,56 C629,57.58 629.92,59.08 631,60.5 C632.08,61.92 633.28,63.37 634.5,64.5 C635.72,65.63 636.88,66.97 638.3,67.3 C639.72,67.63 641.33,67.3 643,66.5 C644.67,65.7 646.47,64 648.3,62.5 C650.13,61 651.97,58.77 654,57.5 C656.03,56.23 658.5,55.15 660.5,54.9 C662.5,54.65 664.13,55.43 666,56 C667.87,56.57 669.42,57.22 671.7,58.3 C673.98,59.38 678.37,61.8 679.7,62.5" fill="none" stroke="#1a1a1a" stroke-width="1.15"/>
<line x1="621.9" y1="18" x2="621.9" y2="87.3" stroke="#f2856a" stroke-width="1.7"/>
<text x="544.1" y="52.65" font-size="8.0" text-anchor="middle" font-weight="normal" fill="#222222" transform="rotate(-90 544.1 52.65)">Envelope</text>
<line x1="564.3" y1="110.5" x2="564.3" y2="179.8" stroke="#6e6e6e" stroke-width="0.8"/>
<line x1="564.3" y1="179.8" x2="679.7" y2="179.8" stroke="#6e6e6e" stroke-width="0.8"/>
<line x1="679.7" y1="179.8" x2="679.7" y2="177.6" stroke="#6e6e6e" stroke-width="0.8"/>
<line x1="564.3" y1="119.4" x2="567.2" y2="119.4" stroke="#6e6e6e" stroke-width="0.8"/>
<text x="560.5" y="122.2" font-size="8.0" text-anchor="end" font-weight="normal" fill="#222222">1</text>
<text x="621.7" y="104.6" font-size="8.0" text-anchor="middle" font-weight="normal" fill="#222222">English</text>
<path d="M564.3,159.3 C565.25,158.97 568.05,158.3 570,157.3 C571.95,156.3 574,154.85 576,153.3 C578,151.75 580,150.22 582,148 C584,145.78 586,142.78 588,140 C590,137.22 592,134.08 594,131.3 C596,128.52 598.33,125.3 600,123.3 C601.67,121.3 602.78,120.13 604,119.3 C605.22,118.47 606.3,118.22 607.3,118.3 C608.3,118.38 609.05,118.88 610,119.8 C610.95,120.72 612,122.22 613,123.8 C614,125.38 615,127.67 616,129.3 C617,130.93 618,132.27 619,133.6 C620,134.93 621,135.9 622,137.3 C623,138.7 624,140.33 625,142 C626,143.67 626.83,145.42 628,147.3 C629.17,149.18 630.67,151.63 632,153.3 C633.33,154.97 634.67,156.4 636,157.3 C637.33,158.2 638.5,158.5 640,158.7 C641.5,158.9 642.88,158.92 645,158.5 C647.12,158.08 650.15,156.77 652.7,156.2 C655.25,155.63 658.08,155.17 660.3,155.1 C662.52,155.03 664.12,155.4 666,155.8 C667.88,156.2 669.32,156.58 671.6,157.5 C673.88,158.42 678.35,160.67 679.7,161.3" fill="none" stroke="#e2e2e2" stroke-width="3.7"/>
<path d="M564.3,159.3 C565.25,158.97 568.05,158.3 570,157.3 C571.95,156.3 574,154.85 576,153.3 C578,151.75 580,150.22 582,148 C584,145.78 586,142.78 588,140 C590,137.22 592,134.08 594,131.3 C596,128.52 598.33,125.3 600,123.3 C601.67,121.3 602.78,120.13 604,119.3 C605.22,118.47 606.3,118.22 607.3,118.3 C608.3,118.38 609.05,118.88 610,119.8 C610.95,120.72 612,122.22 613,123.8 C614,125.38 615,127.67 616,129.3 C617,130.93 618,132.27 619,133.6 C620,134.93 621,135.9 622,137.3 C623,138.7 624,140.33 625,142 C626,143.67 626.83,145.42 628,147.3 C629.17,149.18 630.67,151.63 632,153.3 C633.33,154.97 634.67,156.4 636,157.3 C637.33,158.2 638.5,158.5 640,158.7 C641.5,158.9 642.88,158.92 645,158.5 C647.12,158.08 650.15,156.77 652.7,156.2 C655.25,155.63 658.08,155.17 660.3,155.1 C662.52,155.03 664.12,155.4 666,155.8 C667.88,156.2 669.32,156.58 671.6,157.5 C673.88,158.42 678.35,160.67 679.7,161.3" fill="none" stroke="#efefef" stroke-width="2.7"/>
<path d="M564.3,159.3 C565.25,158.97 568.05,158.3 570,157.3 C571.95,156.3 574,154.85 576,153.3 C578,151.75 580,150.22 582,148 C584,145.78 586,142.78 588,140 C590,137.22 592,134.08 594,131.3 C596,128.52 598.33,125.3 600,123.3 C601.67,121.3 602.78,120.13 604,119.3 C605.22,118.47 606.3,118.22 607.3,118.3 C608.3,118.38 609.05,118.88 610,119.8 C610.95,120.72 612,122.22 613,123.8 C614,125.38 615,127.67 616,129.3 C617,130.93 618,132.27 619,133.6 C620,134.93 621,135.9 622,137.3 C623,138.7 624,140.33 625,142 C626,143.67 626.83,145.42 628,147.3 C629.17,149.18 630.67,151.63 632,153.3 C633.33,154.97 634.67,156.4 636,157.3 C637.33,158.2 638.5,158.5 640,158.7 C641.5,158.9 642.88,158.92 645,158.5 C647.12,158.08 650.15,156.77 652.7,156.2 C655.25,155.63 658.08,155.17 660.3,155.1 C662.52,155.03 664.12,155.4 666,155.8 C667.88,156.2 669.32,156.58 671.6,157.5 C673.88,158.42 678.35,160.67 679.7,161.3" fill="none" stroke="#c2c8cb" stroke-width="0.95"/>
<path d="M564.3,140.4 C565.25,140.13 568.05,139.15 570,138.8 C571.95,138.45 574,138.22 576,138.3 C578,138.38 580,138.68 582,139.3 C584,139.92 586,140.88 588,142 C590,143.12 592,144.55 594,146 C596,147.45 598,149.03 600,150.7 C602,152.37 604.17,154.45 606,156 C607.83,157.55 609.33,158.58 611,160 C612.67,161.42 614.5,163.23 616,164.5 C617.5,165.77 618.5,166.78 620,167.6 C621.5,168.42 623.5,169.18 625,169.4 C626.5,169.62 627.42,169.47 629,168.9 C630.58,168.33 632.67,167.6 634.5,166 C636.33,164.4 638.25,161.75 640,159.3 C641.75,156.85 642.88,154.58 645,151.3 C647.12,148.02 650.62,142.73 652.7,139.6 C654.78,136.47 655.92,134.7 657.5,132.5 C659.08,130.3 660.78,127.9 662.2,126.4 C663.62,124.9 664.75,124.13 666,123.5 C667.25,122.87 668.37,122.55 669.7,122.6 C671.03,122.65 672.33,123 674,123.8 C675.67,124.6 678.75,126.8 679.7,127.4" fill="none" stroke="#a8a8a8" stroke-width="4.0"/>
<path d="M564.3,140.4 C565.25,140.13 568.05,139.15 570,138.8 C571.95,138.45 574,138.22 576,138.3 C578,138.38 580,138.68 582,139.3 C584,139.92 586,140.88 588,142 C590,143.12 592,144.55 594,146 C596,147.45 598,149.03 600,150.7 C602,152.37 604.17,154.45 606,156 C607.83,157.55 609.33,158.58 611,160 C612.67,161.42 614.5,163.23 616,164.5 C617.5,165.77 618.5,166.78 620,167.6 C621.5,168.42 623.5,169.18 625,169.4 C626.5,169.62 627.42,169.47 629,168.9 C630.58,168.33 632.67,167.6 634.5,166 C636.33,164.4 638.25,161.75 640,159.3 C641.75,156.85 642.88,154.58 645,151.3 C647.12,148.02 650.62,142.73 652.7,139.6 C654.78,136.47 655.92,134.7 657.5,132.5 C659.08,130.3 660.78,127.9 662.2,126.4 C663.62,124.9 664.75,124.13 666,123.5 C667.25,122.87 668.37,122.55 669.7,122.6 C671.03,122.65 672.33,123 674,123.8 C675.67,124.6 678.75,126.8 679.7,127.4" fill="none" stroke="#d4d4d4" stroke-width="2.9"/>
<path d="M564.3,140.4 C565.25,140.13 568.05,139.15 570,138.8 C571.95,138.45 574,138.22 576,138.3 C578,138.38 580,138.68 582,139.3 C584,139.92 586,140.88 588,142 C590,143.12 592,144.55 594,146 C596,147.45 598,149.03 600,150.7 C602,152.37 604.17,154.45 606,156 C607.83,157.55 609.33,158.58 611,160 C612.67,161.42 614.5,163.23 616,164.5 C617.5,165.77 618.5,166.78 620,167.6 C621.5,168.42 623.5,169.18 625,169.4 C626.5,169.62 627.42,169.47 629,168.9 C630.58,168.33 632.67,167.6 634.5,166 C636.33,164.4 638.25,161.75 640,159.3 C641.75,156.85 642.88,154.58 645,151.3 C647.12,148.02 650.62,142.73 652.7,139.6 C654.78,136.47 655.92,134.7 657.5,132.5 C659.08,130.3 660.78,127.9 662.2,126.4 C663.62,124.9 664.75,124.13 666,123.5 C667.25,122.87 668.37,122.55 669.7,122.6 C671.03,122.65 672.33,123 674,123.8 C675.67,124.6 678.75,126.8 679.7,127.4" fill="none" stroke="#1a1a1a" stroke-width="1.15"/>
<line x1="621.9" y1="110.5" x2="621.9" y2="179.8" stroke="#f2856a" stroke-width="1.7"/>
<text x="547.8" y="145.15" font-size="8.0" text-anchor="middle" font-weight="normal" fill="#222222" transform="rotate(-90 547.8 145.15)">Envelope</text>
<line x1="640" y1="18.3" x2="650" y2="18.3" stroke="#d0d0d0" stroke-width="1.2"/>
<line x1="640" y1="28.2" x2="650" y2="28.2" stroke="#1e1e1e" stroke-width="1.4"/>
<text x="653.7" y="21.2" font-size="7.65" text-anchor="start" font-weight="normal" fill="#222222">Syllable</text>
<text x="653.7" y="31" font-size="8.0" text-anchor="start" font-weight="normal" fill="#222222">Word</text>
<text x="564.2" y="189.7" font-size="8.0" text-anchor="middle" font-weight="normal" fill="#222222">−0.2</text>
<text x="679.6" y="189.7" font-size="8.0" text-anchor="middle" font-weight="normal" fill="#222222">0.2</text>
<text x="620.6" y="200.4" font-size="7.6" text-anchor="middle" font-weight="normal" fill="#222222">Time (s)</text>
<text x="-0.6" y="227.7" font-size="11" text-anchor="start" font-weight="bold" fill="#111">d</text>
<line x1="37.3" y1="372.9" x2="172" y2="372.9" stroke="#d6d6d6" stroke-width="0.9"/>
<rect x="59" y="347.3" width="12.6" height="26" fill="#e4e4e4"/>
<path d="M57.3,288.5 L73.3,288.5 L73.3,347.3 L71.6,360.4 L73.3,373.3 L73.3,413.3 L57.3,413.3 L57.3,373.3 L59,360.4 L57.3,347.3 Z" fill="none" stroke="#4a4a4a" stroke-width="0.9" stroke-linejoin="miter"/>
<line x1="59" y1="360.4" x2="71.6" y2="360.4" stroke="#4a4a4a" stroke-width="0.9"/>
<rect x="98.1" y="318.8" width="12.9" height="18.4" fill="#e4e4e4"/>
<path d="M96.4,284.8 L112.7,284.8 L112.7,318.8 L111,328.1 L112.7,337.2 L112.7,374.1 L96.4,374.1 L96.4,337.2 L98.1,328.1 L96.4,318.8 Z" fill="none" stroke="#4a4a4a" stroke-width="0.9" stroke-linejoin="miter"/>
<line x1="98.1" y1="328.1" x2="111" y2="328.1" stroke="#4a4a4a" stroke-width="0.9"/>
<rect x="138" y="297.9" width="12.8" height="20.1" fill="#e4e4e4"/>
<path d="M136.3,264 L152.5,264 L152.5,297.9 L150.8,308.3 L152.5,318 L152.5,363.3 L136.3,363.3 L136.3,318 L138,308.3 L136.3,297.9 Z" fill="none" stroke="#4a4a4a" stroke-width="0.9" stroke-linejoin="miter"/>
<line x1="138" y1="308.3" x2="150.8" y2="308.3" stroke="#4a4a4a" stroke-width="0.9"/>
<line x1="37.3" y1="228.8" x2="37.3" y2="428.4" stroke="#6e6e6e" stroke-width="0.8"/>
<line x1="37.3" y1="428.4" x2="172" y2="428.4" stroke="#6e6e6e" stroke-width="0.8"/>
<line x1="37.3" y1="262.1" x2="40" y2="262.1" stroke="#6e6e6e" stroke-width="0.8"/>
<text x="33.7" y="264.7" font-size="7.9" text-anchor="end" font-weight="normal" fill="#222222">0.10</text>
<line x1="37.3" y1="317.3" x2="40" y2="317.3" stroke="#6e6e6e" stroke-width="0.8"/>
<text x="33.7" y="319.9" font-size="7.9" text-anchor="end" font-weight="normal" fill="#222222">0.05</text>
<line x1="37.3" y1="372.9" x2="40" y2="372.9" stroke="#6e6e6e" stroke-width="0.8"/>
<text x="33.7" y="375.5" font-size="7.9" text-anchor="end" font-weight="normal" fill="#222222">0</text>
<line x1="65.2" y1="428.4" x2="65.2" y2="426.2" stroke="#6e6e6e" stroke-width="0.8"/>
<line x1="144.4" y1="428.4" x2="144.4" y2="426.2" stroke="#6e6e6e" stroke-width="0.8"/>
<text x="65.2" y="437.7" font-size="7.9" text-anchor="middle" font-weight="normal" fill="#222222">Low</text>
<text x="144.4" y="437.7" font-size="7.9" text-anchor="middle" font-weight="normal" fill="#222222">High</text>
<text x="104.8" y="449.5" font-size="7.9" text-anchor="middle" font-weight="normal" fill="#222222">AAI</text>
<text x="104.8" y="230" font-size="7.9" text-anchor="middle" font-weight="normal" fill="#222222">Spanish</text>
<text x="93.1" y="251.35" font-size="7" text-anchor="middle" font-weight="normal" fill="#222">*</text>
<text x="96.3" y="251.35" font-size="7" text-anchor="middle" font-weight="normal" fill="#222">*</text>
<text x="99.5" y="251.35" font-size="7" text-anchor="middle" font-weight="normal" fill="#222">*</text>
<line x1="207.8" y1="372.9" x2="342.4" y2="372.9" stroke="#d6d6d6" stroke-width="0.9"/>
<rect x="228.7" y="356.7" width="13.2" height="19.5" fill="#e4e4e4"/>
<path d="M227.2,326 L243.4,326 L243.4,356.7 L241.9,366.7 L243.4,376.2 L243.4,420 L227.2,420 L227.2,376.2 L228.7,366.7 L227.2,356.7 Z" fill="none" stroke="#4a4a4a" stroke-width="0.9" stroke-linejoin="miter"/>
<line x1="228.7" y1="366.7" x2="241.9" y2="366.7" stroke="#4a4a4a" stroke-width="0.9"/>
<rect x="268.1" y="351.1" width="13.2" height="21.1" fill="#e4e4e4"/>
<path d="M266.6,317.1 L282.8,317.1 L282.8,351.1 L281.3,361.6 L282.8,372.2 L282.8,413.3 L266.6,413.3 L266.6,372.2 L268.1,361.6 L266.6,351.1 Z" fill="none" stroke="#4a4a4a" stroke-width="0.9" stroke-linejoin="miter"/>
<line x1="268.1" y1="361.6" x2="281.3" y2="361.6" stroke="#4a4a4a" stroke-width="0.9"/>
<rect x="308" y="297.1" width="12.9" height="26.9" fill="#e4e4e4"/>
<path d="M306.2,249.2 L322.7,249.2 L322.7,297.1 L320.9,310.4 L322.7,324 L322.7,382.3 L306.2,382.3 L306.2,324 L308,310.4 L306.2,297.1 Z" fill="none" stroke="#4a4a4a" stroke-width="0.9" stroke-linejoin="miter"/>
<line x1="308" y1="310.4" x2="320.9" y2="310.4" stroke="#4a4a4a" stroke-width="0.9"/>
<line x1="207.8" y1="228.8" x2="207.8" y2="428.4" stroke="#6e6e6e" stroke-width="0.8"/>
<line x1="207.8" y1="428.4" x2="342.4" y2="428.4" stroke="#6e6e6e" stroke-width="0.8"/>
<line x1="207.8" y1="262.1" x2="210.5" y2="262.1" stroke="#6e6e6e" stroke-width="0.8"/>
<text x="204.2" y="264.7" font-size="7.9" text-anchor="end" font-weight="normal" fill="#222222">0.10</text>
<line x1="207.8" y1="317.3" x2="210.5" y2="317.3" stroke="#6e6e6e" stroke-width="0.8"/>
<text x="204.2" y="319.9" font-size="7.9" text-anchor="end" font-weight="normal" fill="#222222">0.05</text>
<line x1="207.8" y1="372.9" x2="210.5" y2="372.9" stroke="#6e6e6e" stroke-width="0.8"/>
<text x="204.2" y="375.5" font-size="7.9" text-anchor="end" font-weight="normal" fill="#222222">0</text>
<line x1="235.4" y1="428.4" x2="235.4" y2="426.2" stroke="#6e6e6e" stroke-width="0.8"/>
<line x1="314.6" y1="428.4" x2="314.6" y2="426.2" stroke="#6e6e6e" stroke-width="0.8"/>
<text x="235.4" y="437.7" font-size="7.9" text-anchor="middle" font-weight="normal" fill="#222222">Low</text>
<text x="314.6" y="437.7" font-size="7.9" text-anchor="middle" font-weight="normal" fill="#222222">High</text>
<text x="275" y="449.5" font-size="7.9" text-anchor="middle" font-weight="normal" fill="#222222">AAI</text>
<text x="275" y="230" font-size="7.9" text-anchor="middle" font-weight="normal" fill="#222222">English</text>
<text x="262.6" y="251.35" font-size="7" text-anchor="middle" font-weight="normal" fill="#222">*</text>
<text x="265.8" y="251.35" font-size="7" text-anchor="middle" font-weight="normal" fill="#222">*</text>
<text x="269" y="251.35" font-size="7" text-anchor="middle" font-weight="normal" fill="#222">*</text>
<text x="11.2" y="328.3" font-size="7.9" text-anchor="middle" font-weight="normal" fill="#222222" transform="rotate(-90 11.2 328.3)">Native–foreign AUC</text>
</svg>
</body></html>
